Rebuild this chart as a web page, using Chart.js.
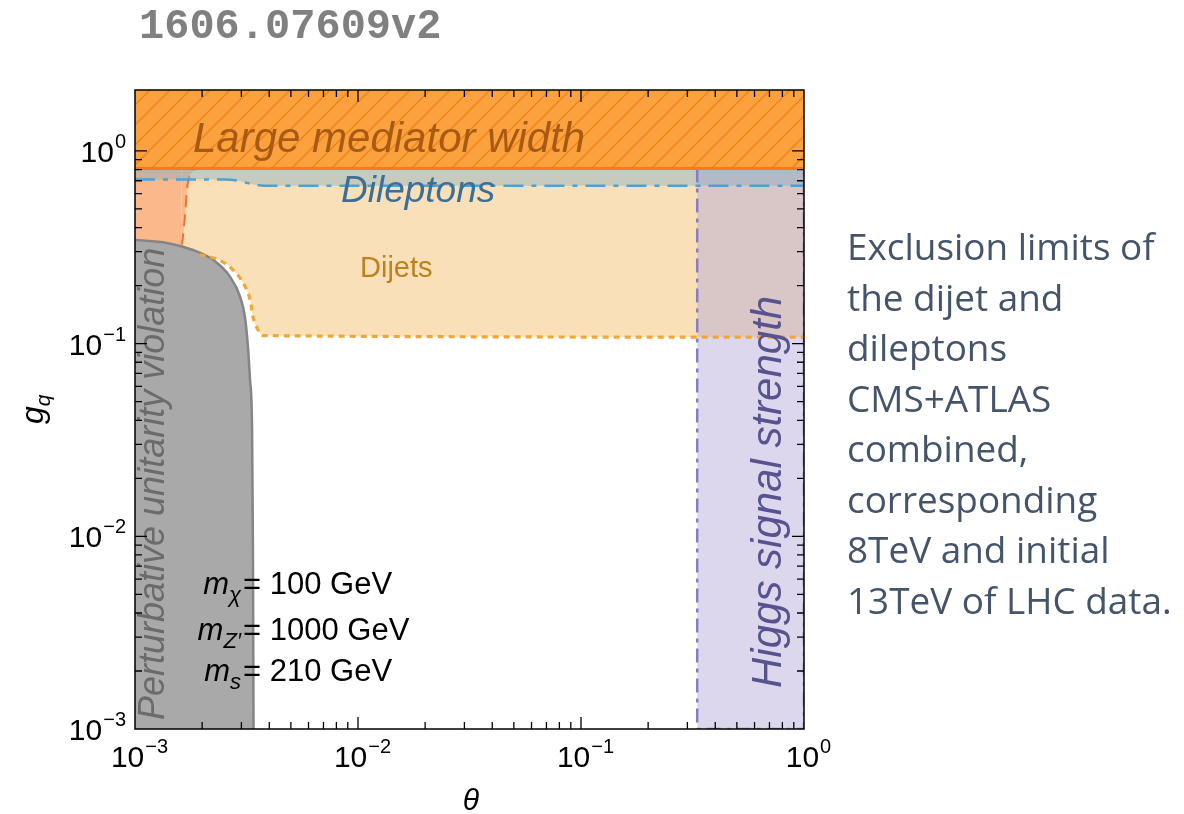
<!DOCTYPE html>
<html><head><meta charset="utf-8">
<script src="https://cdn.jsdelivr.net/npm/chart.js@4.4.1/dist/chart.umd.min.js"></script>
<style>html,body{margin:0;padding:0;background:#fff;overflow:hidden}canvas{display:block}</style>
</head><body>
<canvas id="c" width="1184" height="814"></canvas>
<script>
// ---------- data ----------
const thetaRange = [0.001, 1];
const gqRange = [0.001, 2.07];
const decadeValues = [0.001, 0.01, 0.1, 1];
const decadeExponents = ['\u22123', '\u22122', '\u22121', '0'];

const mediatorTheta = [0.001, 1];
const mediatorGq = [0.81, 0.81];

const dileptonTheta = [0.001, 0.0025, 0.0029, 0.0033, 0.0038, 1];
const dileptonGq = [0.71, 0.71, 0.70, 0.675, 0.66, 0.66];

const dijetTheta = [0.001, 0.00195, 0.00248, 0.00275, 0.00305, 0.00328, 0.00338, 0.00356, 0.00375, 1];
const dijetGq = [0.30, 0.289, 0.265, 0.241, 0.207, 0.169, 0.138, 0.118, 0.110, 0.108];

const unitarityTheta = [0.001, 0.00139, 0.00182, 0.00224, 0.00267, 0.00296, 0.00311, 0.00321, 0.00328, 0.00335, 0.00338, 0.00340];
const unitarityGq = [0.345, 0.333, 0.306, 0.272, 0.222, 0.175, 0.138, 0.0962, 0.0648, 0.0356, 0.0085, 0.001];

const widthEdgeTheta = [0.001, 0.00162, 0.00164, 0.00168, 0.00171, 0.00180, 0.00188];
const widthEdgeGq = [0.33, 0.325, 0.358, 0.476, 0.628, 0.778, 0.81];

const higgsTopTheta = [0.332, 1];
const higgsTopGq = [0.81, 0.81];
const higgsEdgeTheta = [0.332, 0.332, 1, 1];
const higgsEdgeGq = [0.81, 0.001, 0.001, 0.81];

const massLabels = [['\u03c7', '= 100 GeV'], ['Z\u2032', '= 1000 GeV'], ['s', '= 210 GeV']];
const rightNote = ['Exclusion limits of', 'the dijet and', 'dileptons', 'CMS+ATLAS', 'combined,', 'corresponding', '8TeV and initial', '13TeV of LHC data.'];

const pts = (xs, ys) => xs.map((x, i) => ({x: x, y: ys[i]}));

// hatch pattern for large mediator width
function hatch() {
  const c = document.createElement('canvas');
  c.width = 20; c.height = 20;
  const g = c.getContext('2d');
  g.fillStyle = '#fba23e';
  g.fillRect(0, 0, 20, 20);
  g.strokeStyle = '#f0841a';
  g.lineWidth = 1.5;
  g.beginPath();
  g.moveTo(-2, 22); g.lineTo(22, -2);
  g.moveTo(-12, 12); g.lineTo(12, -12);
  g.moveTo(8, 32); g.lineTo(32, 8);
  g.stroke();
  return g.createPattern(c, 'repeat');
}

const SANS = '"Liberation Sans", Arial, Helvetica, sans-serif';

function drawPow(ctx, exp, x, y, align) {
  ctx.font = '30px ' + SANS;
  const w1 = ctx.measureText('10').width;
  ctx.font = '20px ' + SANS;
  const w2 = ctx.measureText(exp).width;
  let x0 = align === 'right' ? x - w1 - w2 : x - (w1 + w2) / 2;
  ctx.fillStyle = '#000';
  ctx.textAlign = 'left';
  ctx.textBaseline = 'alphabetic';
  ctx.font = '30px ' + SANS;
  ctx.fillText('10', x0, y);
  ctx.font = '20px ' + SANS;
  ctx.fillText(exp, x0 + w1 + 1, y - 14);
}

const overlay = {
  id: 'overlay',
  afterDatasetsDraw(chart) {
    const ctx = chart.ctx;
    const a = chart.chartArea;
    ctx.save();
    ctx.beginPath(); ctx.rect(a.left, a.top, a.right - a.left, a.bottom - a.top); ctx.clip();
    ctx.textAlign = 'left';
    ctx.textBaseline = 'alphabetic';
    ctx.font = 'italic 42px ' + SANS;
    ctx.fillStyle = '#a85a14';
    ctx.fillText('Large mediator width', 193, 152);
    ctx.font = 'italic 37px ' + SANS;
    ctx.fillStyle = '#3d6e97';
    ctx.fillText('Dileptons', 341, 202);
    ctx.font = '29px ' + SANS;
    ctx.fillStyle = '#c0801e';
    ctx.fillText('Dijets', 360, 277);
    ctx.save();
    ctx.translate(164, 720);
    ctx.rotate(-Math.PI / 2);
    ctx.font = 'italic 36px ' + SANS;
    ctx.fillStyle = '#6b6b6b';
    ctx.fillText('Perturbative unitarity violation', 0, 0);
    ctx.restore();
    ctx.save();
    ctx.translate(781, 688);
    ctx.rotate(-Math.PI / 2);
    ctx.font = 'italic 42px ' + SANS;
    ctx.fillStyle = '#58528f';
    ctx.fillText('Higgs signal strength', 0, 0);
    ctx.restore();
    const baselines = [594, 640, 681];
    massLabels.forEach((r, i) => {
      const yb = baselines[i];
      ctx.font = 'italic 22px ' + SANS;
      const ws = ctx.measureText(r[0]).width;
      ctx.font = 'italic 31px ' + SANS;
      const wm = ctx.measureText('m').width;
      const xEnd = 241;
      ctx.fillStyle = '#000';
      ctx.fillText('m', xEnd - ws - wm, yb);
      ctx.font = 'italic 22px ' + SANS;
      ctx.fillText(r[0], xEnd - ws, yb + 8);
      ctx.font = '31px ' + SANS;
      ctx.fillText(r[1], 243, yb);
    });
    ctx.restore();
  },
  afterDraw(chart) {
    const ctx = chart.ctx;
    const a = chart.chartArea;
    const xs = chart.scales.x, ys = chart.scales.y;
    ctx.save();
    ctx.strokeStyle = '#000';
    ctx.lineWidth = 1.5;
    ctx.strokeRect(a.left, a.top, a.right - a.left, a.bottom - a.top);
    ctx.lineWidth = 1.3;
    ctx.beginPath();
    decadeValues.forEach(d => {
      for (let m = 1; m <= 9; m++) {
        const v = d * m;
        const len = m === 1 ? 12 : 7;
        if (v >= thetaRange[0] && v <= thetaRange[1]) {
          const px = xs.getPixelForValue(v);
          if (px > a.left + 3 && px < a.right - 3) {
            ctx.moveTo(px, a.bottom); ctx.lineTo(px, a.bottom - len);
            ctx.moveTo(px, a.top); ctx.lineTo(px, a.top + len);
          }
        }
        if (v >= gqRange[0] && v <= gqRange[1]) {
          const py = ys.getPixelForValue(v);
          if (py > a.top + 4 && py < a.bottom - 3) {
            ctx.moveTo(a.left, py); ctx.lineTo(a.left + len, py);
            ctx.moveTo(a.right, py); ctx.lineTo(a.right - len, py);
          }
        }
      }
    });
    ctx.stroke();
    decadeValues.forEach((v, i) => {
      const px = xs.getPixelForValue(v);
      drawPow(ctx, decadeExponents[i], px + 4, a.bottom + 38, 'center');
      const py = ys.getPixelForValue(v);
      drawPow(ctx, decadeExponents[i], 125, py + 11, 'right');
    });
    ctx.fillStyle = '#000';
    ctx.textAlign = 'center';
    ctx.textBaseline = 'alphabetic';
    ctx.font = 'italic 30px ' + SANS;
    ctx.fillText('\u03b8', 471, 810);
    ctx.save();
    ctx.translate(43, 424);
    ctx.rotate(-Math.PI / 2);
    ctx.textAlign = 'left';
    ctx.font = 'italic 32px ' + SANS;
    ctx.fillText('g', 0, 0);
    const wg = ctx.measureText('g').width;
    ctx.font = 'italic 21px ' + SANS;
    ctx.fillText('q', wg, 7);
    ctx.restore();
    ctx.textAlign = 'left';
    ctx.font = 'bold 42px "Liberation Mono", "Courier New", monospace';
    ctx.fillStyle = '#808080';
    ctx.fillText('1606.07609v2', 139, 38);
    ctx.font = '34px "Open Sans", sans-serif';
    const target = 308;
    const w = ctx.measureText(rightNote[0]).width;
    const fs = 34 * target / w;
    ctx.font = fs.toFixed(1) + 'px "Open Sans", sans-serif';
    ctx.fillStyle = '#44546a';
    rightNote.forEach((t, i) => ctx.fillText(t, 847, 260 + i * 50.5));
    ctx.restore();
  }
};

const pattern = hatch();
const noFirst = {borderColor: c => c.p0DataIndex === 0 ? 'rgba(0,0,0,0)' : undefined};

new Chart(document.getElementById('c'), {
  type: 'scatter',
  data: {
    datasets: [
      {label: 'Dijets region', data: pts(dijetTheta, dijetGq), showLine: true, fill: 'end',
       backgroundColor: '#f9e0b9', borderWidth: 0, borderColor: 'rgba(0,0,0,0)', pointRadius: 0,
       cubicInterpolationMode: 'monotone', order: 10, clip: 0},
      {label: 'Width edge', data: pts(widthEdgeTheta, widthEdgeGq), showLine: true, fill: 'end',
       backgroundColor: '#fbb98b', borderColor: '#f3702c', borderWidth: 2, borderDash: [12, 7],
       segment: noFirst, pointRadius: 0, cubicInterpolationMode: 'monotone', order: 9, clip: 0},
      {label: 'Perturbative unitarity', data: pts(unitarityTheta, unitarityGq), showLine: true, fill: 'start',
       backgroundColor: '#a9a9a9', borderColor: '#858585', borderWidth: 2.5, pointRadius: 0,
       cubicInterpolationMode: 'monotone', order: 8, clip: 0},
      {label: 'Higgs region', data: pts(higgsTopTheta, higgsTopGq), showLine: true, fill: 'start',
       backgroundColor: 'rgba(178,166,214,0.45)', borderWidth: 0, borderColor: 'rgba(0,0,0,0)', pointRadius: 0, order: 7, clip: 0},
      {label: 'Dileptons', data: pts(dileptonTheta, dileptonGq), showLine: true, fill: 'end',
       backgroundColor: 'rgba(115,168,200,0.38)', borderColor: '#4ca2d4', borderWidth: 2.5,
       borderDash: [20, 8, 5, 8], pointRadius: 0, cubicInterpolationMode: 'monotone', order: 6, clip: 0},
      {label: 'Higgs edge', data: pts(higgsEdgeTheta, higgsEdgeGq), showLine: true, fill: false,
       borderColor: '#8a7cc4', borderWidth: 2.5, borderDash: [14, 6, 4, 6], pointRadius: 0, order: 5, clip: 0},
      {label: 'Dijets limit', data: pts(dijetTheta, dijetGq), showLine: true, fill: false,
       borderColor: '#f2a733', borderWidth: 3.2, borderDash: [6, 5], segment: noFirst, pointRadius: 0,
       cubicInterpolationMode: 'monotone', order: 4, clip: 0},
      {label: 'Large mediator width', data: pts(mediatorTheta, mediatorGq), showLine: true, fill: 'end',
       backgroundColor: pattern, borderColor: '#ff7a12', borderWidth: 3, pointRadius: 0, order: 1, clip: 0}
    ]
  },
  options: {
    responsive: false,
    animation: false,
    layout: {padding: {left: 135, right: 380, top: 90, bottom: 85}},
    scales: {
      x: {type: 'logarithmic', min: thetaRange[0], max: thetaRange[1], bounds: 'data', display: false},
      y: {type: 'logarithmic', min: gqRange[0], max: gqRange[1], bounds: 'data', display: false}
    },
    plugins: {legend: {display: false}, tooltip: {enabled: false}},
    events: []
  },
  plugins: [overlay]
});
</script>
</body></html>
